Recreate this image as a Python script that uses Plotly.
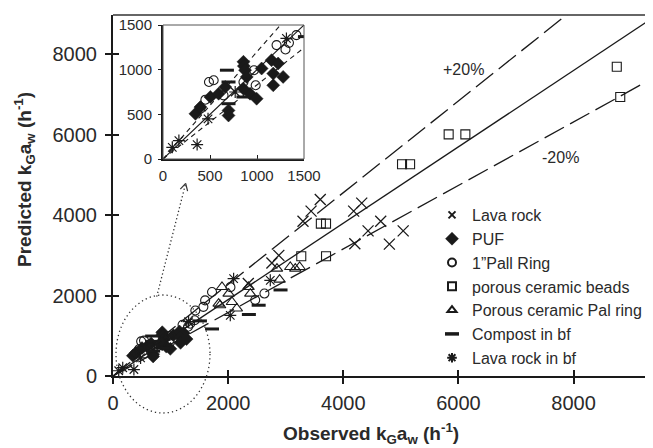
import math
import plotly.graph_objects as go

FONT = "Liberation Sans, Arial, sans-serif"

# ---------------- data (observed, predicted kGaw, h^-1) ----------------
lava_obs = [2350, 2760, 2880, 3300, 3440, 3600, 4180, 4320, 4200, 4430, 4650, 4800, 5040]
lava_pred = [2300, 2810, 3000, 3850, 4100, 4390, 4100, 4300, 3290, 3610, 3850, 3280, 3610]

puf_obs = [345, 398, 504, 592, 662, 697, 697, 856, 860, 873, 891, 926, 996, 1049, 1155, 1225, 1173, 1173, 1278, 856]
puf_pred = [506, 581, 694, 731, 806, 544, 487, 1088, 1040, 994, 919, 731, 675, 1013, 1106, 1069, 956, 825, 919, 787]

pall_obs = [398, 451, 489, 539, 644, 856, 968, 986, 1208, 1303, 1419, 1340, 1430, 1570, 1600, 1720, 2040, 2470, 2630]
pall_pred = [562, 664, 862, 881, 712, 862, 994, 825, 1275, 1226, 1387, 1300, 1630, 1720, 1880, 2090, 2210, 1890, 2050]

beads_obs = [3270, 3700, 3610, 3700, 5020, 5160, 5830, 6120, 8750, 8810]
beads_pred = [2980, 2980, 3790, 3790, 5265, 5265, 6010, 6010, 7690, 6940]

palring_obs = [1835, 1860, 1893, 2008, 2066, 2150, 2355, 2385, 2894, 2848, 3079, 3166, 3241]
palring_pred = [1800, 1760, 2213, 2049, 1840, 1680, 2213, 2049, 2397, 2671, 2711, 2671, 2711]

compost_obs = [680, 697, 697, 856, 1510, 1720, 2360, 2530, 2910]
compost_pred = [994, 862, 619, 694, 1370, 1170, 1530, 1760, 2140]

lavabf_obs = [99, 169, 363, 479, 768, 1313, 2037, 2095, 2732]
lavabf_pred = [131, 206, 161, 450, 750, 1350, 1509, 2420, 2380]

series_names = ["Lava rock", "PUF", "1\u201dPall Ring", "porous ceramic beads",
                "Porous ceramic Pal ring", "Compost in bf", "Lava rock in bf"]

# reference lines: slope of predicted vs observed
main_line_slopes = [0.95, 1.14, 0.79]
inset_line_slopes = [1.0, 1.2, 0.83]

main_x_ticks = [0, 2000, 4000, 6000, 8000]
main_y_ticks = [0, 2000, 4000, 6000, 8000]
inset_ticks = [0, 500, 1000, 1500]
Y_RANGE = [0, 8978]
INSET_RANGE = [0, 1500]

# ---------------- styling ----------------
INK = "#1a1a1a"
TXT = "#2a2a2a"
styles = [
    dict(symbol="x-thin-open", size=11, line=dict(color=INK, width=1.3), color=INK),
    dict(symbol="diamond", size=10, line=dict(color=INK, width=0.5), color=INK),
    dict(symbol="circle-open", size=9, line=dict(color=INK, width=1.1), color=INK),
    dict(symbol="square-open", size=9, line=dict(color=INK, width=1.1), color=INK),
    dict(symbol="triangle-up-open", size=10, line=dict(color=INK, width=1.1), color=INK),
    dict(symbol="line-ew-open", size=10, line=dict(color=INK, width=3), color=INK),
    dict(symbol="asterisk-open", size=10, line=dict(color=INK, width=1.2), color=INK),
]
legend_styles = [
    dict(symbol="x-thin-open", size=7, line=dict(color=INK, width=2), color=INK),
    dict(symbol="diamond", size=10, line=dict(color=INK, width=0.5), color=INK),
    dict(symbol="circle-open", size=8, line=dict(color=INK, width=2), color=INK),
    dict(symbol="square-open", size=8, line=dict(color=INK, width=2), color=INK),
    dict(symbol="triangle-up-open", size=8, line=dict(color=INK, width=2), color=INK),
    dict(symbol="line-ew-open", size=10, line=dict(color=INK, width=3.5), color=INK),
    dict(symbol="asterisk-open", size=8, line=dict(color=INK, width=2), color=INK),
]
all_obs = [lava_obs, puf_obs, pall_obs, beads_obs, palring_obs, compost_obs, lavabf_obs]
all_pred = [lava_pred, puf_pred, pall_pred, beads_pred, palring_pred, compost_pred, lavabf_pred]

# page body has an 8px margin; the figure starts at (8, 8) on the page
OFF = 8
W, H = 653 - OFF, 448 - OFF
L, R, T, B = 113 - OFF, 0, 15 - OFF, (448 - OFF) - (376 - OFF)
PW, PH = W - L - R, H - T - B
X_PER_UNIT = 460.6 / 8000.0
X_RANGE = [0, PW / X_PER_UNIT]


def pp(px, py):
    """page pixel -> paper fraction"""
    return (px - OFF - L) / PW, (H - B - (py - OFF)) / PH


fig = go.Figure()

line_dash_main = ["solid", "22px,7px", "22px,7px"]
for k, d in zip(main_line_slopes, line_dash_main):
    xs = [X_RANGE[0], X_RANGE[1]]
    fig.add_trace(go.Scatter(x=xs, y=[k * v for v in xs], mode="lines",
                             line=dict(color=INK, width=1.3, dash=d),
                             showlegend=False, hoverinfo="skip", xaxis="x", yaxis="y"))
line_dash_inset = ["solid", "5px,4px", "5px,4px"]
for k, d in zip(inset_line_slopes, line_dash_inset):
    xs = [INSET_RANGE[0], INSET_RANGE[1]]
    fig.add_trace(go.Scatter(x=xs, y=[k * v for v in xs], mode="lines",
                             line=dict(color=INK, width=1.1, dash=d),
                             showlegend=False, hoverinfo="skip", xaxis="x2", yaxis="y2"))

for i, (name, ox, py, st, lst) in enumerate(zip(series_names, all_obs, all_pred, styles, legend_styles)):
    fig.add_trace(go.Scatter(x=ox, y=py, mode="markers", name=name,
                             legendgroup=f"g{i}", showlegend=False,
                             marker=st, xaxis="x", yaxis="y"))
    fig.add_trace(go.Scatter(x=ox, y=py, mode="markers", name=name,
                             legendgroup=f"g{i}", showlegend=False,
                             marker=st, xaxis="x2", yaxis="y2"))
    # legend entry (smaller, bolder symbol as in the original key)
    fig.add_trace(go.Scatter(x=[None], y=[None], mode="markers", name=name,
                             legendgroup=f"g{i}", showlegend=True,
                             marker=lst, xaxis="x", yaxis="y"))

fig.add_trace(go.Scatter(x=[None], y=[None], xaxis="x3", yaxis="y3",
                         showlegend=False, hoverinfo="skip"))

axis_common = dict(showgrid=False, zeroline=False, showline=True, linecolor=INK,
                   linewidth=2, ticks="outside", tickcolor=INK, tickwidth=1.5,
                   tickfont=dict(size=20, color=TXT, family=FONT))

ix0, iy0 = pp(163, 159)
ix1, iy1 = pp(304, 25)

fig.update_layout(
    width=W, height=H, autosize=False,
    margin=dict(l=L, r=R, t=T, b=B, autoexpand=False),
    paper_bgcolor="white", plot_bgcolor="rgba(0,0,0,0)",
    font=dict(family=FONT, color=TXT),
    xaxis=dict(range=X_RANGE, tickvals=main_x_ticks, ticklen=6, domain=[0, 1],
               anchor="y", ticklabelstandoff=2, **axis_common),
    yaxis=dict(range=Y_RANGE, tickvals=main_y_ticks, ticklen=6, domain=[0, 1],
               anchor="x", ticklabelstandoff=4, **axis_common),
    xaxis3=dict(range=X_RANGE, tickvals=main_x_ticks, overlaying="x", anchor="y3",
                ticks="inside", ticklen=6, tickwidth=1.5, tickcolor=INK,
                showticklabels=False, showline=False, showgrid=False, zeroline=False),
    yaxis3=dict(range=Y_RANGE, tickvals=main_y_ticks, overlaying="y", anchor="x3",
                ticks="inside", ticklen=6, tickwidth=1.5, tickcolor=INK,
                showticklabels=False, showline=False, showgrid=False, zeroline=False),
    xaxis2=dict(range=INSET_RANGE, tickvals=inset_ticks, domain=[ix0, ix1], anchor="y2",
                showgrid=False, zeroline=False, showline=True, linecolor=INK, linewidth=2,
                ticks="inside", ticklen=4, tickcolor=INK, tickwidth=1.2,
                tickfont=dict(size=15, color=TXT, family=FONT), ticklabelstandoff=2),
    yaxis2=dict(range=INSET_RANGE, tickvals=inset_ticks, domain=[iy0, iy1], anchor="x2",
                showgrid=False, zeroline=False, showline=True, linecolor=INK, linewidth=2,
                ticks="outside", ticklen=3, tickcolor=INK, tickwidth=1.2,
                tickfont=dict(size=15, color=TXT, family=FONT), ticklabelstandoff=3),
    legend=dict(x=pp(432, 0)[0], y=pp(0, 198)[1], xanchor="left", yanchor="top",
                bgcolor="rgba(0,0,0,0)", font=dict(size=16, family=FONT, color=TXT),
                itemsizing="trace", tracegroupgap=0),
    showlegend=True,
)

shapes = []
shapes.append(dict(type="line", xref="paper", yref="paper", x0=0, x1=1, y0=1, y1=1,
                   line=dict(color="#333", width=1.5)))
shapes.append(dict(type="rect", xref="paper", yref="paper", x0=ix0, x1=ix1, y0=iy0, y1=iy1,
                   line=dict(color="#555", width=1)))
ex0, ey0 = pp(116, 413)
ex1, ey1 = pp(210, 295)
shapes.append(dict(type="circle", xref="paper", yref="paper", x0=ex0, x1=ex1, y0=ey0, y1=ey1,
                   line=dict(color="#333", width=1.3, dash="1.3px,3px")))
tail = (156.7, 296.7)
tip = (185.7, 183.3)
ax0, ay0 = pp(*tail)
ax1, ay1 = pp(*tip)
shapes.append(dict(type="line", xref="paper", yref="paper", x0=ax0, y0=ay0, x1=ax1, y1=ay1,
                   line=dict(color="#333", width=1.3, dash="1.3px,2.5px")))
dx, dy = tail[0] - tip[0], tail[1] - tip[1]
n = math.hypot(dx, dy)
ux, uy = dx / n, dy / n
for ang in (math.radians(28), math.radians(-28)):
    rx = ux * math.cos(ang) - uy * math.sin(ang)
    ry = ux * math.sin(ang) + uy * math.cos(ang)
    hx, hy = pp(tip[0] + 8 * rx, tip[1] + 8 * ry)
    shapes.append(dict(type="line", xref="paper", yref="paper", x0=ax1, y0=ay1, x1=hx, y1=hy,
                       line=dict(color="#333", width=1.2)))
fig.update_layout(shapes=shapes)


def label(text, px, py, size, bold=False, angle=0):
    x, y = pp(px, py)
    return dict(text=f"<b>{text}</b>" if bold else text, xref="paper", yref="paper",
                x=x, y=y, xanchor="center", yanchor="middle", showarrow=False,
                textangle=angle, font=dict(size=size, family=FONT, color=TXT))


annotations = [
    label("Observed k<sub>G</sub>a<sub>w</sub> (h<sup>-1</sup>)", 371, 433, 19, bold=True),
    label("Predicted k<sub>G</sub>a<sub>w</sub> (h<sup>-1</sup>)", 24, 180, 19, bold=True, angle=-90),
    label("+20%", 463, 69, 16),
    label("-20%", 560, 157.5, 16),
]
fig.update_layout(annotations=annotations)

fig.write_html("out.html")
